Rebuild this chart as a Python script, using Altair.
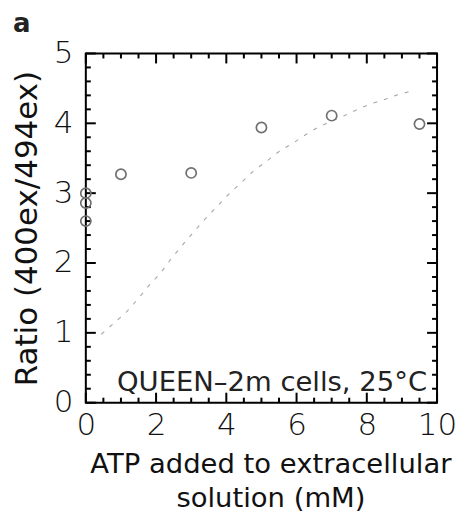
import altair as alt
import pandas as pd

# Measured points (open circles)
pt_x = [0, 0, 0, 1.0, 3.0, 5.0, 7.0, 9.5]
pt_y = [3.0, 2.86, 2.6, 3.27, 3.29, 3.94, 4.11, 3.99]

# Dashed reference curve
curve_x = [0.44, 0.78, 1.16, 1.49, 1.82, 2.10, 2.43, 2.79, 3.08, 3.38, 4.04, 4.42,
           4.80, 5.18, 5.51, 5.94, 6.27, 6.63, 7.36, 7.74, 8.12, 8.45, 8.83, 9.25]
curve_y = [0.98, 1.13, 1.30, 1.49, 1.69, 1.84, 2.06, 2.28, 2.45, 2.62, 2.97, 3.15,
           3.33, 3.47, 3.60, 3.73, 3.84, 3.95, 4.11, 4.20, 4.28, 4.33, 4.40, 4.46]

# Tick values
x_labels = [0, 2, 4, 6, 8, 10]
x_minor = [0.5, 1, 1.5, 2.5, 3, 3.5, 4.5, 5, 5.5, 6.5, 7, 7.5, 8.5, 9, 9.5]
y_labels = [0, 1, 2, 3, 4, 5]
y_minor = [0.2, 0.4, 0.6, 0.8, 1.2, 1.4, 1.6, 1.8, 2.2, 2.4, 2.6, 2.8,
           3.2, 3.4, 3.6, 3.8, 4.2, 4.4, 4.6, 4.8]

x_title = ["ATP added to extracellular", "solution (mM)"]
y_title = "Ratio (400ex/494ex)"
annotation = "QUEEN–2m cells, 25°C"
panel = "a"

W, H = 352, 350
FONT = "DejaVu Sans"

xs = alt.Scale(domain=[0, 10], nice=False, zero=False)
ys = alt.Scale(domain=[0, 5], nice=False, zero=False)

pts = pd.DataFrame({"x": pt_x, "y": pt_y})
crv = pd.DataFrame({"x": curve_x, "y": curve_y})

x_axis = alt.Axis(values=x_labels, ticks=False, tickSize=0, domain=False, grid=False,
                  labelFont=FONT, labelFontSize=31, labelFontWeight=300,
                  labelColor="#111111",
                  labelPadding=8, labelFlush=False, labelOverlap=False,
                  title=x_title, titleFont=FONT, titleFontSize=27.5,
                  titleFontWeight="normal", titleColor="#111111",
                  titleX=185, titleY=70, titleBaseline="alphabetic",
                  titleAlign="center", titleLineHeight=34)
y_axis = alt.Axis(values=y_labels, ticks=False, tickSize=0, domain=False, grid=False,
                  labelFont=FONT, labelFontSize=31, labelFontWeight=300,
                  labelColor="#111111",
                  labelPadding=13, labelFlush=False, labelOverlap=False,
                  title=y_title, titleFont=FONT, titleFontSize=31,
                  titleFontWeight="normal", titleColor="#111111",
                  titleX=-49, titleY=175, titleBaseline="alphabetic",
                  titleAlign="center", titleAngle=270)

curve = alt.Chart(crv).mark_line(color="#a8a8a8", strokeWidth=1.1,
                                 strokeDash=[4, 7]).encode(
    x=alt.X("x:Q", scale=xs, axis=x_axis),
    y=alt.Y("y:Q", scale=ys, axis=y_axis),
)

def xticks(vals, length):
    d = pd.DataFrame({"v": vals})
    base = alt.Chart(d).mark_rule(color="black", strokeWidth=2)
    bottom = base.encode(x=alt.X("v:Q", scale=xs, axis=x_axis),
                         y=alt.value(H), y2=alt.value(H - length))
    top = base.encode(x=alt.X("v:Q", scale=xs, axis=x_axis),
                      y=alt.value(0), y2=alt.value(length))
    return [bottom, top]

def yticks(vals, length):
    d = pd.DataFrame({"v": vals})
    base = alt.Chart(d).mark_rule(color="black", strokeWidth=2)
    left = base.encode(y=alt.Y("v:Q", scale=ys, axis=y_axis),
                       x=alt.value(0), x2=alt.value(length))
    right = base.encode(y=alt.Y("v:Q", scale=ys, axis=y_axis),
                        x=alt.value(W), x2=alt.value(W - length))
    return [left, right]

tick_layers = xticks(x_labels, 10) + xticks(x_minor, 5) + yticks(y_labels, 10) + yticks(y_minor, 5)

points = alt.Chart(pts).mark_point(shape="circle", filled=False, size=105,
                                   color="#707070", strokeWidth=1.7, opacity=1).encode(
    x=alt.X("x:Q", scale=xs, axis=x_axis),
    y=alt.Y("y:Q", scale=ys, axis=y_axis),
)

ann = alt.Chart(pd.DataFrame({"t": [annotation]})).mark_text(
    font=FONT, fontSize=27.5, color="#222222", align="right", baseline="alphabetic"
).encode(text="t:N", x=alt.value(342), y=alt.value(338))

lab = alt.Chart(pd.DataFrame({"t": [panel]})).mark_text(
    font=FONT, fontSize=26, fontWeight="bold", color="#222222", align="left",
    baseline="alphabetic"
).encode(text="t:N", x=alt.value(-73), y=alt.value(-22))

chart = alt.layer(curve, *tick_layers, points, ann, lab).properties(
    width=W, height=H,
    autosize=alt.AutoSizeParams(type="none"),
    padding={"left": 78, "top": 45, "right": 20, "bottom": 115},
).configure_view(stroke="black", strokeWidth=2)

chart.save("out.html", embed_options={"renderer": "svg", "actions": False})
